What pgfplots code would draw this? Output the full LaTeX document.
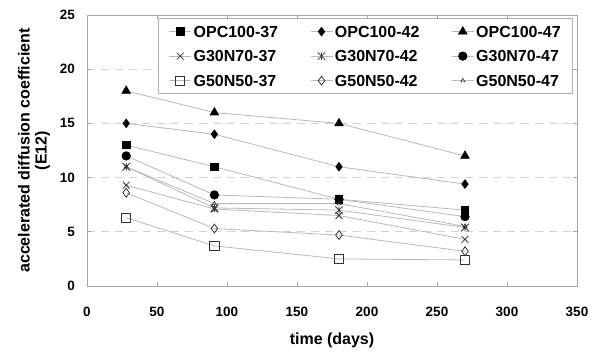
\documentclass[border=0pt]{standalone}
\usepackage{fontspec}
\setmainfont{Liberation Sans}
\usepackage{pgfplots}
\pgfplotsset{compat=1.18}
\pgfdeclareplotmark{xstar}{%
  \pgfpathmoveto{\pgfqpoint{-\pgfplotmarksize}{-\pgfplotmarksize}}%
  \pgfpathlineto{\pgfqpoint{\pgfplotmarksize}{\pgfplotmarksize}}%
  \pgfpathmoveto{\pgfqpoint{-\pgfplotmarksize}{\pgfplotmarksize}}%
  \pgfpathlineto{\pgfqpoint{\pgfplotmarksize}{-\pgfplotmarksize}}%
  \pgfpathmoveto{\pgfqpoint{0pt}{-\pgfplotmarksize}}%
  \pgfpathlineto{\pgfqpoint{0pt}{\pgfplotmarksize}}%
  \pgfusepathqstroke}
\begin{document}
\begin{tikzpicture}
\path[use as bounding box] (-87bp,-66bp) rectangle (513bp,286bp);
\begin{axis}[
  at={(0,0)}, anchor=south west,
  scale only axis, width=490bp, height=271bp,
  xmin=0, xmax=350, ymin=0, ymax=25,
  xtick={0,50,...,350}, ytick={0,5,...,25},
  tick align=inside, major tick length=4bp,
  tick style={gray!70, line width=0.6bp},
  axis line style={gray!70, line width=0.8bp},
  ymajorgrids,
  grid style={gray!35, line width=0.8bp, dash pattern=on 8bp off 6bp},
  /pgf/number format/assume math mode=true,
  ticklabel style={font=\fontsize{13.5bp}{16bp}\selectfont\bfseries},
  xticklabel style={anchor=center, yshift=-26bp},
  yticklabel style={anchor=east, inner sep=0pt, xshift=-12bp},
  xlabel={time (days)},
  xlabel style={font=\fontsize{16bp}{19bp}\selectfont\bfseries, at={(axis description cs:0.5,-0.199)}, anchor=center},
  ylabel={accelerated diffusion coefficient\\(E12)},
  ylabel style={font=\fontsize{16bp}{17bp}\selectfont\bfseries, align=center, at={(axis description cs:-0.108,0.5)}, anchor=center},
  legend columns=3,
  legend cell align=left,
  legend style={at={(0.992,0.989)}, anchor=north east, draw=gray!60, line width=0.8bp,
    font=\fontsize{16bp}{18bp}\selectfont\bfseries, inner xsep=10bp, inner ysep=1bp,
    nodes={text height=11.5bp, text depth=0bp, inner ysep=6.5bp},
    /tikz/every even column/.append style={column sep=30bp}},
  legend image code/.code={\draw[mark repeat=2,mark phase=2] plot coordinates {(0bp,0bp)(11bp,0bp)(22bp,0bp)};},
  every axis plot/.append style={gray!55, line width=0.8bp},
]
\addplot[mark=square*, mark size=3.8bp, mark options={draw=black, fill=black}] coordinates {(28,13)(91,11)(180,8)(270,7)};
\addlegendentry{OPC100-37}
\addplot[mark=diamond*, mark size=4.2bp, mark options={draw=black, fill=black}] coordinates {(28,15)(91,14)(180,11)(270,9.4)};
\addlegendentry{OPC100-42}
\addplot[mark=triangle*, mark size=4.8bp, mark options={draw=black, fill=black}] coordinates {(28,18)(91,16)(180,15)(270,12)};
\addlegendentry{OPC100-47}
\addplot[mark=x, mark size=4.8bp, mark options={draw=black!80, line width=0.8bp}] coordinates {(28,9.3)(91,7.1)(180,6.5)(270,4.3)};
\addlegendentry{G30N70-37}
\addplot[mark=xstar, mark size=3.8bp, mark options={draw=black!80, line width=0.8bp}] coordinates {(28,11)(91,7.2)(180,7.0)(270,5.4)};
\addlegendentry{G30N70-42}
\addplot[mark=*, mark size=4.2bp, mark options={draw=black, fill=black}] coordinates {(28,12)(91,8.4)(180,8.0)(270,6.4)};
\addlegendentry{G30N70-47}
\addplot[mark=square, mark size=4.6bp, mark options={draw=black!80, fill=white, line width=0.8bp}] coordinates {(28,6.3)(91,3.7)(180,2.5)(270,2.4)};
\addlegendentry{G50N50-37}
\addplot[mark=diamond, mark size=4.4bp, mark options={draw=black!80, fill=white, line width=0.8bp}] coordinates {(28,8.6)(91,5.3)(180,4.7)(270,3.2)};
\addlegendentry{G50N50-42}
\addplot[mark=triangle, mark size=2.4bp, mark options={draw=black!80, fill=white, line width=0.6bp}] coordinates {(28,11)(91,7.6)(180,7.6)(270,5.5)};
\addlegendentry{G50N50-47}
\end{axis}
\end{tikzpicture}
\end{document}
